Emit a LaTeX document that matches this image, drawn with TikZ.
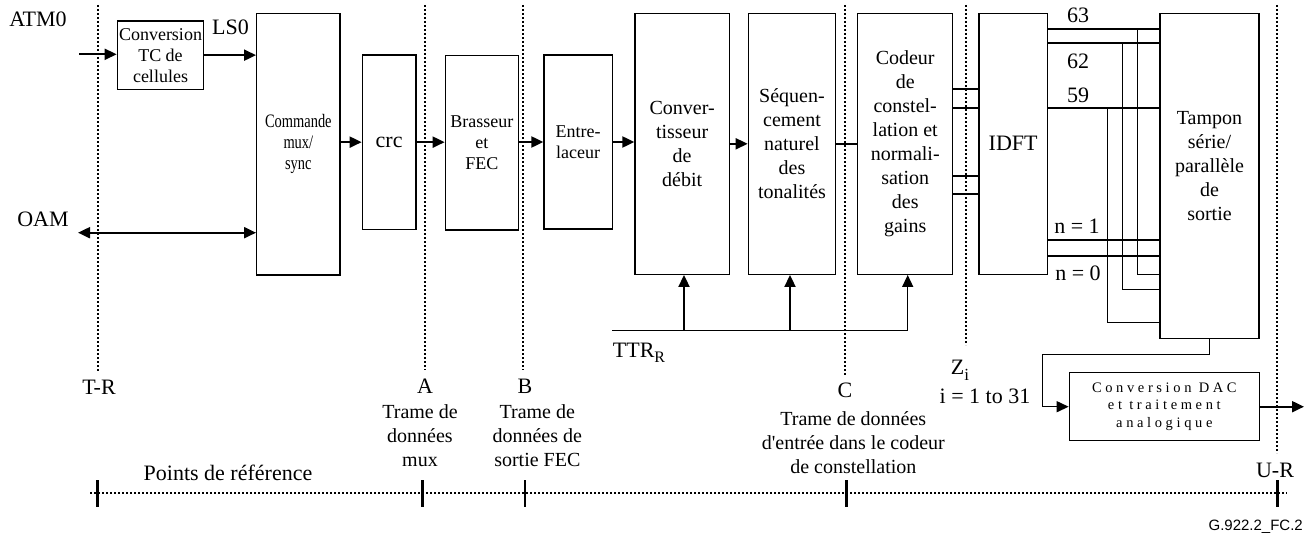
\documentclass[tikz,border=0pt]{standalone}
\usepackage{fontspec}
\setmainfont{Liberation Serif}
\setsansfont{Liberation Sans}
\newfontfamily\spacedfont[LetterSpace=25]{Liberation Serif}
\usetikzlibrary{arrows.meta}
\newcommand\biglbl{\fontsize{22}{25}\selectfont}
\newcommand\boxfnt{\fontsize{20}{24}\selectfont}
\newcommand\smallboxfnt{\fontsize{18}{21}\selectfont}
\begin{document}
\begin{tikzpicture}[x=1pt,y=-1pt,
  box/.style={draw, line width=1.3pt, inner sep=0pt, align=center, font=\boxfnt},
  conn/.style={line width=2pt},
  arr/.style={line width=2pt, -{Triangle[length=12pt,width=11pt]}},
  arrboth/.style={line width=2pt, {Triangle[length=12pt,width=11pt]}-{Triangle[length=12pt,width=11pt]}},
  thinarr/.style={line width=1.4pt, -{Triangle[length=12pt,width=11pt]}},
  thinline/.style={line width=1.4pt},
  refline/.style={line width=2pt, dash pattern=on 2pt off 2pt},
  tick/.style={line width=2.6pt},
  lbl/.style={inner sep=0pt, font=\biglbl},
  desc/.style={inner sep=0pt, align=center, font=\boxfnt}]
\useasboundingbox (0,0) rectangle (1305,535);

% reference dotted lines
\draw[refline] (98,5) -- (98,372);
\draw[refline] (425,5) -- (425,370);
\draw[refline] (523,5) -- (523,370);
\draw[refline] (845,5) -- (845,375);
\draw[refline] (966,5) -- (966,345);
\draw[refline] (1277,5) -- (1277,453);

% boxes
\node[box, minimum width=86.4pt, minimum height=68.3pt, font=\smallboxfnt] (conv) at (160.5,55.15) {Conversion\\TC de\\cellules};
\node[box, minimum width=83.3pt, minimum height=261.7pt, font=\fontsize{19}{21}\selectfont] (mux) at (298.35,144.15)
  {\scalebox{0.76}[1]{Commande}\\\scalebox{0.76}[1]{mux/}\\\scalebox{0.76}[1]{sync}};
\node[box, minimum width=53.7pt, minimum height=174.3pt, font=\biglbl] (crc) at (389.15,142.15) {crc};
\node[box, minimum width=73pt, minimum height=174.3pt, font=\smallboxfnt] (bras) at (481.8,142.85) {Brasseur\\et\\FEC};
\node[box, minimum width=68.3pt, minimum height=174pt, font=\smallboxfnt] (entre) at (578.15,142) {Entre-\\laceur};
\node[box, minimum width=94.3pt, minimum height=261pt] (convd) at (682.15,143.8) {Conver-\\tisseur\\de\\débit};
\node[box, minimum width=87.4pt, minimum height=261pt] (seq) at (792,143.8) {Séquen-\\cement\\naturel\\des\\tonalités};
\node[box, minimum width=95pt, minimum height=261pt] (codeur) at (905.2,143.8) {Codeur\\de\\constel-\\lation et\\normali-\\sation\\des\\gains};
\node[box, minimum width=68.3pt, minimum height=261pt, font=\biglbl] (idft) at (1013.15,143.8) {IDFT};
\node[box, minimum width=99pt, minimum height=325pt] (tampon) at (1209.5,175.8) {};
\node[desc] (tamponlbl) at (1209.5,166) {Tampon\\série/\\parallèle\\de\\sortie};
\node[box, minimum width=190pt, minimum height=68pt, font={\fontsize{14.5}{17.5}\selectfont\spacedfont}] (dac) at (1164.3,406.7)
  {Conversion DAC\\et traitement\\analogique};

% inputs
\node[lbl] (atm) at (38,19) {ATM0};
\coordinate (atmin) at (79,54.3);
\draw[arr] (atmin) -- (atmin -| conv.west);
\draw[arr] (conv.east) -- (conv.east -| mux.west);
\node[lbl] (ls0) at (230.5,27) {LS0};
\node[lbl] (oam) at (43,219) {OAM};
\coordinate (oamend) at (78,232.7);
\draw[arrboth] (oamend) -- (oamend -| mux.west);

% main chain
\draw[arr] (mux.east |- crc.west) -- (crc.west);
\draw[arr] (crc.east) -- (crc.east -| bras.west);
\draw[arr] (bras.east |- entre.west) -- (entre.west);
\draw[arr] (entre.east) -- (entre.east -| convd.west);
\draw[arr] (convd.east) -- (seq.west);
\draw[conn] (seq.east) -- (codeur.west);

% codeur -> IDFT
\foreach \yy in {89,107.7,175.7,194.3}
  \draw[conn] (codeur.east |- 0,\yy) -- (idft.west |- 0,\yy);

% IDFT -> tampon
\foreach \yy in {29,43.3,107.7,240,256}
  \draw[conn] (idft.east |- 0,\yy) -- (tampon.west |- 0,\yy);
\node[lbl] (l63) at (1078,15) {63};
\node[lbl] (l62) at (1078,61.7) {62};
\node[lbl] (l59) at (1078,95.7) {59};
\node[lbl] (ln1) at (1077,226.7) {n = 1};
\node[lbl] (ln0) at (1078,273.3) {n = 0};

% feedback thin lines
\draw[thinline] (1137.7,29) -- (1137.7,274.3) -- (tampon.west |- 0,274.3);
\draw[thinline] (1122.3,43.3) -- (1122.3,289.3) -- (tampon.west |- 0,289.3);
\draw[thinline] (1107.3,107.7) -- (1107.3,322.7) -- (tampon.west |- 0,322.7);

% tampon -> DAC
\coordinate (bend) at (1042.7,354.3);
\draw[thinarr] (tampon.south) |- (bend) |- (dac.west);
\coordinate (out) at (1304,406.7);
\draw[arr] (dac.east) -- (out);

% TTR
\coordinate (ttr) at (612,330.7);
\draw[thinline] (ttr) -- (907.7,330.7);
\draw[arr] (684,330.7) -- (684,0 |- convd.south);
\draw[arr] (790,330.7) -- (790,0 |- seq.south);
\draw[thinarr] (907.7,330.7) -- (907.7,0 |- codeur.south);
\node[lbl, anchor=base west] (ttrlbl) at (612.7,357.3) {TTR\raisebox{-5pt}{\fontsize{16}{16}\selectfont R}};

% reference labels
\node[lbl] (tr) at (99,387) {T-R};
\node[lbl] (la) at (425,386.7) {A};
\node[lbl] (lb) at (525,386.7) {B};
\node[lbl] (lc) at (845,390) {C};
\node[lbl, anchor=base] (lz) at (960,374) {Z\raisebox{-6pt}{\fontsize{17}{17}\selectfont i}};
\node[lbl] (li) at (985,396.7) {i = 1 to 31};
\node[lbl] (lur) at (1275,470) {U-R};
\node[desc] (da) at (420,435.7) {Trame de\\données\\mux};
\node[desc] (db) at (537.3,435.7) {Trame de\\données de\\sortie FEC};
\node[desc] (dc) at (853.3,442.3) {Trame de données\\d\textquotesingle entrée dans le codeur\\de constellation};
\node[lbl] (pts) at (228,473.3) {Points de référence};

% axis
\draw[refline] (90,493) -- (1287,493);
\foreach \xx in {97.7,422.7,525,846.7,1277.3}
  \draw[tick] (\xx,480) -- (\xx,507);
\node[inner sep=0pt, anchor=east, font=\sffamily\fontsize{15}{18}\selectfont] (fig) at (1303,526.7) {G.922.2\_FC.2};
\end{tikzpicture}
\end{document}
